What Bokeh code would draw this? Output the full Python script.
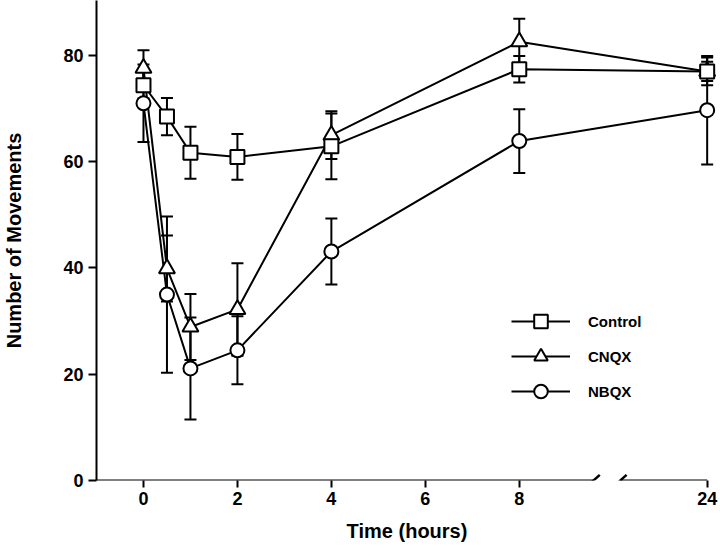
from bokeh.plotting import figure
from bokeh.models import (ColumnDataSource, Whisker, TeeHead, FixedTicker, Arrow,
                          Legend, LegendItem, Range1d, Title)
from bokeh.embed import file_html
from bokeh.resources import INLINE

# ---- data ----
hours = [0, 0.5, 1, 2, 4, 8, 24]
control = [74.4, 68.5, 61.7, 60.9, 62.9, 77.4, 77.0]
control_err = [2.5, 3.5, 4.9, 4.3, 6.2, 2.5, 2.6]
cnqx = [77.6, 39.9, 28.9, 32.2, 65.0, 82.6, 77.0]
cnqx_err = [3.4, 6.2, 6.2, 8.7, 4.5, 4.3, 1.8]
nbqx = [71.0, 35.0, 21.1, 24.5, 43.1, 63.9, 69.7]
nbqx_err = [7.3, 14.7, 9.6, 6.4, 6.2, 6.0, 10.2]

x_ticks = [0, 2, 4, 6, 8, 24]
y_ticks = [0, 20, 40, 60, 80]

# broken time axis: 24 h is drawn at axis position 12
BROKEN = {24: 12}
BREAK_MARKS = [9.58, 10.15]
AXIS_END = 12


def axis_pos(h):
    return BROKEN.get(h, h)


FONT = "Liberation Sans"

p = figure(width=718, height=556, output_backend="svg", toolbar_location=None,
           x_range=Range1d(-1, 12.22), y_range=Range1d(0, 90.35),
           min_border_left=94, min_border_right=1, min_border_top=0,
           min_border_bottom=76)
p.grid.grid_line_color = None
p.outline_line_color = None
p.background_fill_color = "white"

for ax in (p.xaxis[0], p.yaxis[0]):
    ax.major_label_text_font = FONT
    ax.major_label_text_font_style = "bold"
    ax.major_label_text_font_size = "18px"
    ax.major_label_text_color = "black"
    ax.axis_label_text_font = FONT
    ax.axis_label_text_font_style = "bold"
    ax.axis_label_text_font_size = "20px"
    ax.axis_label_text_color = "black"
    ax.major_tick_line_width = 2
    ax.major_tick_line_color = "black"
    ax.axis_line_width = 2
    ax.axis_line_color = "black"
    ax.minor_tick_line_color = None
    ax.major_tick_in = 0

p.yaxis.axis_label = "Number of Movements"
p.xaxis.major_tick_out = 7
p.yaxis.major_tick_out = 8
p.xaxis.major_label_standoff = 4
p.yaxis.major_label_standoff = 5
p.yaxis.axis_label_standoff = 35
p.xaxis.ticker = FixedTicker(ticks=[axis_pos(t) for t in x_ticks])
p.xaxis.major_label_overrides = {axis_pos(t): str(t) for t in x_ticks}
p.yaxis.ticker = FixedTicker(ticks=y_ticks)

# x axis title, shifted a little left of the frame centre as in the reference
p.add_layout(Title(text="Time (hours)", align="center", offset=-22, standoff=21,
                   vertical_align="bottom",
                   text_font=FONT, text_font_style="bold", text_font_size="20px",
                   text_color="black"), "below")

# x axis line drawn by hand with a break
p.xaxis.axis_line_color = None
p.add_layout(Arrow(x_start=-1, y_start=0, x_end=BREAK_MARKS[0], y_end=0,
                   end=None, line_width=2, line_color="black"))
p.add_layout(Arrow(x_start=BREAK_MARKS[1], y_start=0, x_end=AXIS_END, y_end=0,
                   end=None, line_width=2, line_color="black"))
for bx in BREAK_MARKS:
    p.add_layout(Arrow(x_start=bx - 0.134, y_start=-1.07, x_end=bx + 0.134, y_end=1.07,
                       end=None, line_width=2.5, line_color="black"))

xs = [axis_pos(h) for h in hours]
series = [
    ("Control", control, control_err, "square", 14),
    ("CNQX", cnqx, cnqx_err, "triangle", 16),
    ("NBQX", nbqx, nbqx_err, "circle", 14),
]

sources = []
lines = []
for name, vals, errs, marker, size in series:
    src = ColumnDataSource(dict(
        x=xs, y=vals,
        upper=[v + e for v, e in zip(vals, errs)],
        lower=[v - e for v, e in zip(vals, errs)],
    ))
    sources.append(src)
    lines.append(p.line("x", "y", source=src, line_width=2, line_color="black"))
    p.add_layout(Whisker(base="x", upper="upper", lower="lower", source=src,
                         line_width=2, line_color="black",
                         upper_head=TeeHead(size=12, line_width=2, line_color="black"),
                         lower_head=TeeHead(size=12, line_width=2, line_color="black")))

items = []
draw_order = [2, 1, 0]
marks = {}
for i in draw_order:
    name, vals, errs, marker, size = series[i]
    marks[i] = p.scatter("x", "y", source=sources[i], marker=marker, size=size,
                         fill_color="white", line_color="black", line_width=2)
for i, (name, *_rest) in enumerate(series):
    items.append(LegendItem(label=name, renderers=[lines[i], marks[i]]))

legend = Legend(items=items, location=(415, 72), glyph_width=59, glyph_height=34,
                label_height=34, spacing=1, padding=0, margin=0, label_standoff=18,
                border_line_color=None, background_fill_alpha=0,
                label_text_font=FONT, label_text_font_style="bold",
                label_text_font_size="15px", label_text_color="black")
p.add_layout(legend)

open("out.html", "w").write(file_html(p, INLINE))
